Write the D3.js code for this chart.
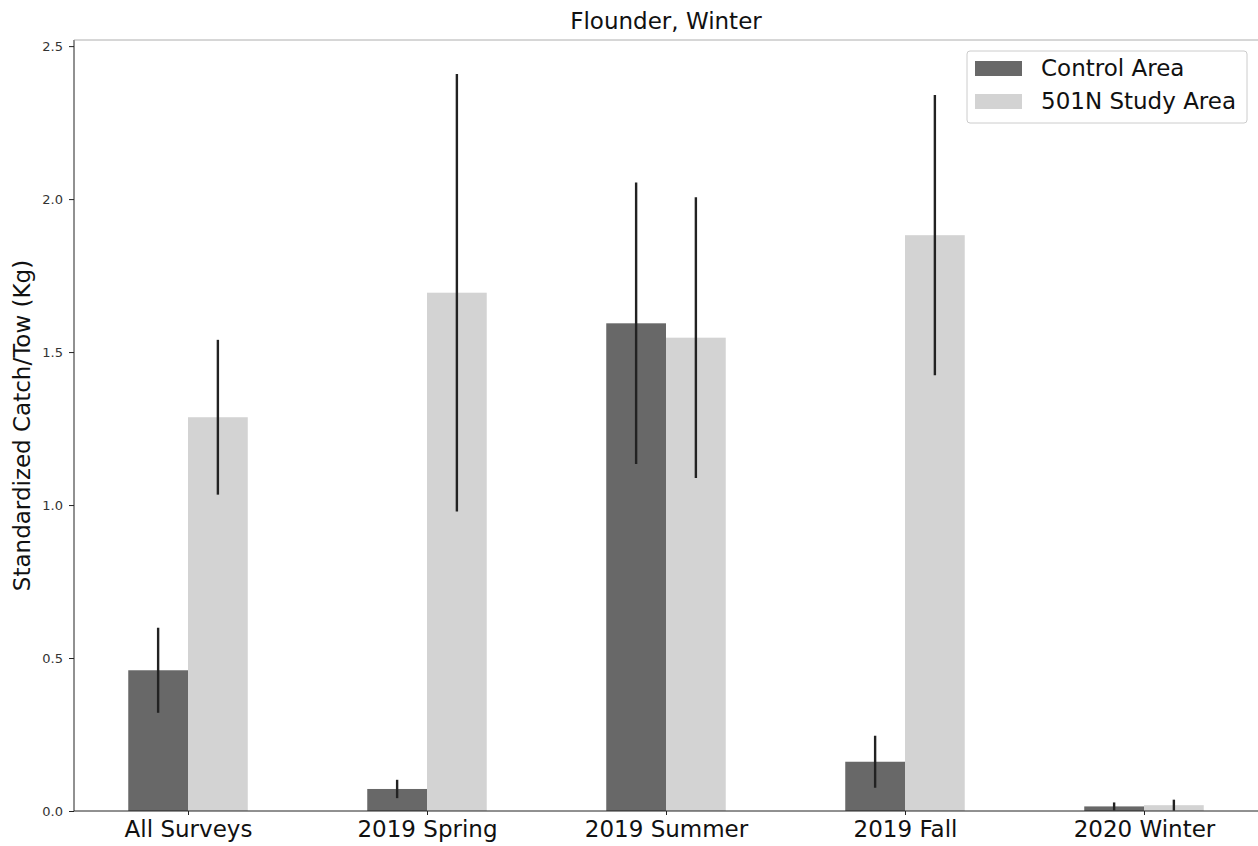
<!DOCTYPE html>
<html>
<head>
<meta charset="utf-8">
<script src="https://cdn.jsdelivr.net/npm/d3@7"></script>
<style>
  html, body { margin: 0; padding: 0; background: #fff; }
  svg { display: block; font-family: "DejaVu Sans", sans-serif; }
</style>
</head>
<body>
<svg id="chart" width="1258" height="846"></svg>
<script>
const categories = ["All Surveys", "2019 Spring", "2019 Summer", "2019 Fall", "2020 Winter"];
const seriesNames = ["Control Area", "501N Study Area"];
const controlValues = [0.460, 0.072, 1.594, 0.161, 0.015];
const controlErrors = [0.139, 0.030, 0.460, 0.085, 0.013];
const studyValues = [1.287, 1.694, 1.547, 1.882, 0.019];
const studyErrors = [0.253, 0.715, 0.459, 0.458, 0.018];
const yTicks = [0.0, 0.5, 1.0, 1.5, 2.0, 2.5];
const title = "Flounder, Winter";
const yLabel = "Standardized Catch/Tow (Kg)";

const colors = ["#686868", "#d3d3d3"];
const W = 1258, H = 846;
const margin = {left: 74, right: 0, top: 40, bottom: 35};
const svg = d3.select("#chart");

const x = d3.scaleLinear().domain([-0.477, categories.length - 1 + 0.477]).range([margin.left, W - margin.right]);
const y = d3.scaleLinear().domain([0, 2.52]).range([H - margin.bottom, margin.top]);
const barW = 0.25;

const series = [
  {name: seriesNames[0], values: controlValues, errors: controlErrors, offset: -barW / 2, color: colors[0]},
  {name: seriesNames[1], values: studyValues, errors: studyErrors, offset: barW / 2, color: colors[1]}
];

// bars
series.forEach(s => {
  svg.append("g").selectAll("rect").data(s.values).join("rect")
    .attr("x", (d, i) => x(i + s.offset - barW / 2))
    .attr("width", x(barW) - x(0))
    .attr("y", d => y(d))
    .attr("height", d => y(0) - y(d))
    .attr("fill", s.color);
});
// error bars
series.forEach(s => {
  svg.append("g").selectAll("line").data(s.values).join("line")
    .attr("x1", (d, i) => x(i + s.offset))
    .attr("x2", (d, i) => x(i + s.offset))
    .attr("y1", (d, i) => y(Math.max(0, d - s.errors[i])))
    .attr("y2", (d, i) => y(d + s.errors[i]))
    .attr("stroke", "#222")
    .attr("stroke-width", 2.4);
});

// axes
const yAxis = svg.append("g").attr("transform", `translate(${margin.left},0)`)
  .call(d3.axisLeft(y).tickValues(yTicks).tickFormat(d3.format(".1f")).tickSize(5).tickPadding(6));
yAxis.selectAll("text").attr("font-size", 13).attr("fill", "#333").attr("font-family", "DejaVu Sans");
yAxis.selectAll("line").attr("stroke", "#222");
yAxis.select(".domain").remove();

const xAxis = svg.append("g").attr("transform", `translate(0,${H - margin.bottom})`)
  .call(d3.axisBottom(x).tickValues(d3.range(categories.length)).tickFormat(i => categories[i]).tickSize(4).tickPadding(6));
xAxis.selectAll("text").attr("font-size", 23).attr("fill", "#111").attr("font-family", "DejaVu Sans");
xAxis.selectAll("line").attr("stroke", "#222");
xAxis.select(".domain").remove();

// spines
svg.append("line").attr("x1", margin.left).attr("x2", margin.left).attr("y1", y(0)).attr("y2", y(2.52)).attr("stroke", "#222").attr("stroke-width", 1);
svg.append("line").attr("x1", margin.left).attr("x2", W).attr("y1", y(0)).attr("y2", y(0)).attr("stroke", "#222").attr("stroke-width", 1);
svg.append("line").attr("x1", margin.left).attr("x2", W).attr("y1", y(2.52)).attr("y2", y(2.52)).attr("stroke", "#999").attr("stroke-width", 0.8);

// title
svg.append("text").attr("x", (margin.left + W) / 2).attr("y", 29).attr("text-anchor", "middle")
  .attr("font-size", 23).attr("fill", "#111").text(title);

// y label
svg.append("text").attr("transform", `translate(30,${(y(0) + y(2.52)) / 2}) rotate(-90)`)
  .attr("text-anchor", "middle").attr("font-size", 23).attr("fill", "#111").text(yLabel);

// legend
const lg = svg.append("g").attr("transform", "translate(967,51)");
lg.append("rect").attr("width", 280).attr("height", 72).attr("rx", 3)
  .attr("fill", "#fff").attr("fill-opacity", 0.8).attr("stroke", "#ccc").attr("stroke-width", 1);
series.forEach((s, i) => {
  lg.append("rect").attr("x", 8).attr("y", 10 + i * 33).attr("width", 47).attr("height", 15).attr("fill", s.color);
  lg.append("text").attr("x", 74).attr("y", 25 + i * 33).attr("font-size", 23).attr("fill", "#111").text(s.name);
});
</script>
</body>
</html>
